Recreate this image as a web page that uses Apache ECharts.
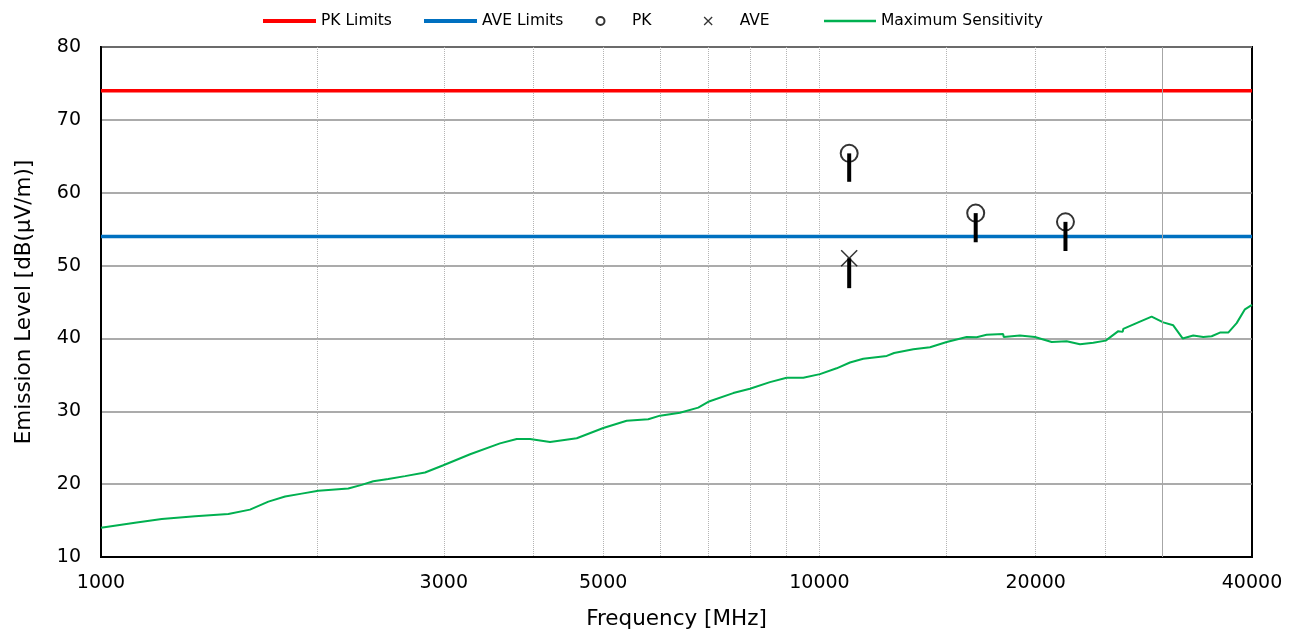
<!DOCTYPE html>
<html>
<head>
<meta charset="utf-8">
<script src="https://cdn.jsdelivr.net/npm/echarts@6/dist/echarts.min.js"></script>
<style>
html,body{margin:0;padding:0;background:#fff;}
#chart{width:1302px;height:632px;}
</style>
</head>
<body>
<div id="chart"></div>
<script>
// ---- data ----
const sensFreq = [1000, 1115, 1215, 1352, 1504, 1612, 1710, 1804, 1903, 2007, 2209, 2306, 2393, 2511, 2650, 2825, 2996, 3264, 3592, 3790, 3955, 4217, 4594, 5002, 5391, 5778, 5999, 6395, 6781, 7002, 7586, 8003, 8533, 9002, 9494, 10016, 10566, 11027, 11507, 12408, 12702, 12783, 13511, 14253, 15036, 16027, 16549, 17088, 18020, 18050, 19010, 19950, 20270, 21050, 22085, 23048, 24052, 25026, 26058, 26427, 26478, 27931, 28997, 30098, 31077, 32027, 33135, 34214, 35148, 36096, 37069, 38080, 39104, 40000];
const sensLevel = [14.0, 14.7, 15.2, 15.6, 15.9, 16.5, 17.6, 18.3, 18.7, 19.1, 19.4, 19.9, 20.4, 20.7, 21.1, 21.6, 22.6, 24.1, 25.6, 26.2, 26.2, 25.8, 26.3, 27.7, 28.7, 28.9, 29.4, 29.8, 30.5, 31.3, 32.5, 33.1, 34.0, 34.6, 34.6, 35.1, 35.9, 36.7, 37.2, 37.6, 38.0, 37.8, 38.5, 38.8, 39.5, 40.2, 40.15, 40.5, 40.6, 40.2, 40.4, 40.2, 40.0, 39.5, 39.6, 39.2, 39.4, 39.7, 41.0, 40.9, 41.3, 42.3, 43.0, 42.2, 41.8, 40.0, 40.4, 40.2, 40.3, 40.8, 40.8, 42.1, 44.0, 44.6];
const pkFreq = [11000, 16500, 22000];
const pkLevel = [65.4, 57.2, 56.0];
const aveFreq = [11000];
const aveLevel = [51.0];
const barFreq = [11000, 16500, 22000, 11000];
const barTop = [65.4, 57.2, 56.0, 51.0];
const barBottom = [61.5, 53.2, 52.0, 46.9];
const pkLimit = 74;
const aveLimit = 54;
const freqRange = [1000, 40000];
const xLabelValues = [1000, 3000, 5000, 10000, 20000, 40000];
const xGridValues = [2000, 3000, 4000, 5000, 6000, 7000, 8000, 9000, 10000, 15000, 20000, 25000];
const xSolidGrid = [30000];
const yRange = [10, 80];
const yStep = 10;

// ---- chart ----
const FONT = 'DejaVu Sans';
const chart = echarts.init(document.getElementById('chart'), null, {renderer: 'canvas'});
const zip = (a, b) => a.map((v, i) => [v, b[i]]);
const legendText = {fontFamily: FONT, fontSize: 15.5, color: '#000'};
function mkLegend(name, icon, left, w, h, extra) {
  return Object.assign({
    data: [{name: name, icon: icon}],
    left: left, top: 13, padding: 0,
    itemWidth: w, itemHeight: h, itemGap: 0,
    selectedMode: false,
    textStyle: legendText
  }, extra || {});
}
const XPATH = 'path://M0,0L10,10M10,0L0,10';

const option = {
  animation: false,
  backgroundColor: '#fff',
  legend: [
    mkLegend('PK Limits', 'rect', 263, 53, 4, {itemStyle: {borderWidth: 0}}),
    mkLegend('AVE Limits', 'rect', 424, 53, 4, {itemStyle: {borderWidth: 0}}),
    mkLegend('PK', 'emptyCircle', 595.5, 53, 8, {symbolKeepAspect: true}),
    mkLegend('AVE', XPATH, 703.5, 53, 8, {symbolKeepAspect: true, itemStyle: {borderWidth: 1.3, borderColor: '#000'}}),
    mkLegend('Maximum Sensitivity', 'rect', 824, 52, 2.5, {itemStyle: {borderWidth: 0}})
  ],
  grid: {
    left: 101, right: 50, top: 47, bottom: 75,
    show: true, borderColor: '#000', borderWidth: 2,
    outerBoundsMode: 'none'
  },
  xAxis: {
    type: 'log', logBase: 10,
    min: freqRange[0], max: freqRange[1],
    name: 'Frequency [MHz]', nameLocation: 'middle', nameGap: 51,
    nameTextStyle: {fontFamily: FONT, fontSize: 21.5, color: '#000'},
    axisLine: {show: true, lineStyle: {color: '#000', width: 2}},
    axisTick: {show: false, customValues: xGridValues},
    axisLabel: {customValues: xLabelValues, fontFamily: FONT, fontSize: 19, color: '#000', margin: 17,
      formatter: v => String(Math.round(v))},
    splitLine: {show: true, lineStyle: {type: 'dotted', color: '#b4b4b4', width: 1}},
    minorSplitLine: {show: false}
  },
  yAxis: {
    type: 'value', min: yRange[0], max: yRange[1], interval: yStep,
    name: 'Emission Level [dB(μV/m)]', nameLocation: 'middle', nameGap: 66, nameRotate: 90,
    nameTextStyle: {fontFamily: FONT, fontSize: 21.5, color: '#000'},
    axisLine: {show: true, lineStyle: {color: '#000', width: 2}},
    axisTick: {show: false},
    axisLabel: {fontFamily: FONT, fontSize: 19, color: '#000', margin: 20},
    splitLine: {show: true, lineStyle: {color: '#8f8f8f', width: 1.5}}
  },
  series: [
    {
      name: 'PK Limits', type: 'line', symbol: 'none', z: 3,
      data: freqRange.map(f => [f, pkLimit]),
      lineStyle: {color: '#ff0000', width: 3.5}, itemStyle: {color: '#ff0000'},
      markLine: {
        silent: true, symbol: 'none', label: {show: false},
        lineStyle: {type: 'solid', color: '#a6a6a6', width: 1},
        data: xSolidGrid.map(v => ({xAxis: v}))
      }
    },
    {
      name: 'AVE Limits', type: 'line', symbol: 'none', z: 3,
      data: freqRange.map(f => [f, aveLimit]),
      lineStyle: {color: '#0070c0', width: 3.5}, itemStyle: {color: '#0070c0'}
    },
    {
      name: 'Maximum Sensitivity', type: 'line', symbol: 'none', z: 3,
      data: zip(sensFreq, sensLevel),
      lineStyle: {color: '#00b050', width: 2}, itemStyle: {color: '#00b050'}
    },
    {
      name: 'PK', type: 'scatter', symbol: 'emptyCircle', symbolSize: 17, z: 4,
      data: zip(pkFreq, pkLevel),
      itemStyle: {color: '#000', borderColor: '#000', borderWidth: 1.5}
    },
    {
      name: 'AVE', type: 'scatter', symbol: XPATH, symbolSize: 16, z: 4,
      data: zip(aveFreq, aveLevel),
      itemStyle: {color: '#000', borderColor: '#000', borderWidth: 1.5}
    },
    {
      name: 'bars', type: 'custom', z: 5,
      encode: {x: 0, y: [1, 2]},
      data: barFreq.map((f, i) => [f, barTop[i], barBottom[i]]),
      renderItem: function (params, api) {
        const t = api.coord([api.value(0), api.value(1)]);
        const b = api.coord([api.value(0), api.value(2)]);
        return {type: 'rect', shape: {x: t[0] - 2, y: t[1], width: 4, height: b[1] - t[1]}, style: {fill: '#000'}};
      }
    }
  ]
};
chart.setOption(option);
</script>
</body>
</html>
